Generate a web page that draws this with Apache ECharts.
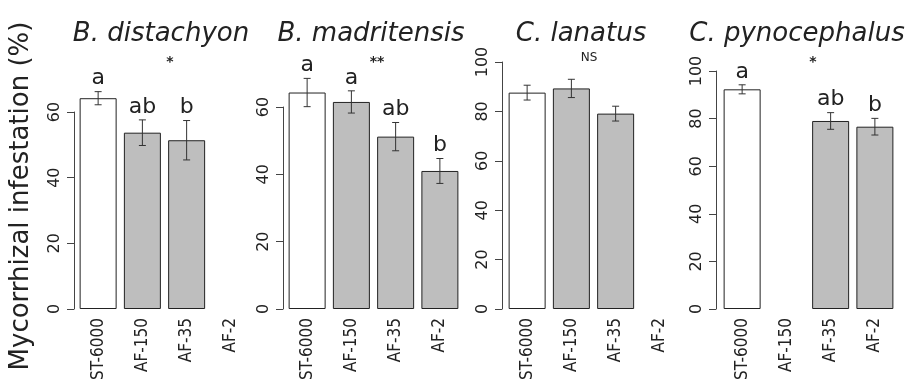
<!DOCTYPE html>
<html>
<head>
<meta charset="utf-8">
<script src="https://cdn.jsdelivr.net/npm/echarts@6/dist/echarts.min.js"></script>
<style>
  html, body { margin: 0; padding: 0; background: #fff; }
  #chart { width: 916px; height: 385px; }
</style>
</head>
<body>
<div id="chart"></div>
<script>
// treatments on the x axis
const categories = ['ST-6000', 'AF-150', 'AF-35', 'AF-2'];
const species = ['B. distachyon', 'B. madritensis', 'C. lanatus', 'C. pynocephalus'];

// mean infestation (%) per treatment, null = not measured
const distachyon   = [64.2, 53.7, 51.4, null];
const madritensis  = [64.3, 61.5, 51.2, 41.0];
const lanatus      = [87.6, 89.3, 79.1, null];
const pynocephalus = [92.3, null, 79.0, 76.6];

// standard errors
const distachyonSe   = [2.0, 3.9, 6.0, null];
const madritensisSe  = [4.2, 3.3, 4.2, 3.7];
const lanatusSe      = [3.0, 3.7, 3.0, null];
const pynocephalusSe = [1.9, null, 3.5, 3.5];

// post-hoc letters
const distachyonLet   = ['a', 'ab', 'b', ''];
const madritensisLet  = ['a', 'a', 'ab', 'b'];
const lanatusLet      = ['', '', '', ''];
const pynocephalusLet = ['a', '', 'ab', 'b'];

const signif = ['*', '**', 'NS', '*'];
const yMax = [60, 60, 100, 100];

const means = [distachyon, madritensis, lanatus, pynocephalus];
const ses = [distachyonSe, madritensisSe, lanatusSe, pynocephalusSe];
const letters = [distachyonLet, madritensisLet, lanatusLet, pynocephalusLet];

const FONT = 'DejaVu Sans';
const NARROW = '"Liberation Sans Narrow", "DejaVu Sans Condensed", "DejaVu Sans"';
const grids = [
    {left: 76, top: 112, width: 177, bottom: 76, offset: 2, title: 156, sigX: 170, sigY: 62},
    {left: 285, top: 107, width: 177, bottom: 76, offset: 2, title: 366, sigX: 377, sigY: 62},
    {left: 505, top: 62, width: 177, bottom: 76, offset: 3, title: 576, sigX: 589, sigY: 58},
    {left: 720, top: 71, width: 177, bottom: 76, offset: 4, title: 792, sigX: 813, sigY: 62}
];

const option = {
    backgroundColor: '#fff',
    animation: false,
    title: [],
    grid: [],
    xAxis: [],
    yAxis: [],
    series: [],
    graphic: [{
        type: 'text',
        x: 21, y: 196,
        rotation: Math.PI / 2,
        style: {
            text: 'Mycorrhizal infestation (%)',
            font: '26px "' + FONT + '"',
            fill: '#222',
            align: 'center',
            verticalAlign: 'middle'
        }
    }]
};

grids.forEach(function (g, i) {
    option.grid.push({left: g.left, top: g.top, width: g.width, bottom: g.bottom});
    option.title.push({
        text: species[i],
        left: g.title,
        top: 16,
        textAlign: 'center',
        textStyle: {fontFamily: FONT, fontStyle: 'italic', fontWeight: 'normal', fontSize: 26, color: '#222'}
    });
    option.graphic.push({
        type: 'text',
        x: g.sigX, y: g.sigY,
        style: {
            text: signif[i],
            font: (signif[i] === 'NS' ? 'normal 12px "' : 'bold 14px "') + FONT + '"',
            fill: '#222',
            align: 'center',
            verticalAlign: 'middle'
        }
    });
    option.xAxis.push({
        type: 'category',
        gridIndex: i,
        data: categories,
        axisLine: {show: false},
        axisTick: {show: false},
        axisLabel: {interval: 0, rotate: 90, margin: 9, fontSize: 17, fontFamily: NARROW, color: '#222'}
    });
    option.yAxis.push({
        type: 'value',
        gridIndex: i,
        min: 0, max: yMax[i], interval: 20,
        offset: g.offset,
        splitLine: {show: false},
        axisLine: {show: true, lineStyle: {color: '#444', width: 1}},
        axisTick: {show: true, length: 7, lineStyle: {color: '#444'}},
        axisLabel: {rotate: 90, margin: 11, fontSize: 16, fontFamily: FONT, color: '#222'}
    });
    option.series.push({
        type: 'bar',
        xAxisIndex: i, yAxisIndex: i,
        barWidth: 37,
        clip: false,
        z: 2,
        data: means[i].map(function (v, k) {
            return {
                value: v,
                itemStyle: {color: k === 0 ? '#ffffff' : '#bebebe', borderColor: '#222', borderWidth: 1}
            };
        })
    });
    const errData = [];
    means[i].forEach(function (v, k) {
        if (v !== null) errData.push([k, v - ses[i][k], v + ses[i][k], letters[i][k]]);
    });
    option.series.push({
        type: 'custom',
        xAxisIndex: i, yAxisIndex: i,
        clip: false,
        z: 5,
        data: errData,
        renderItem: function (params, api) {
            const k = api.value(0);
            const lo = api.coord([k, api.value(1)]);
            const hi = api.coord([k, api.value(2)]);
            const lab = errData[params.dataIndex][3];
            const cap = 3.5;
            const st = {stroke: '#333', lineWidth: 1};
            return {
                type: 'group',
                children: [
                    {type: 'line', shape: {x1: lo[0], y1: lo[1], x2: hi[0], y2: hi[1]}, style: st},
                    {type: 'line', shape: {x1: lo[0] - cap, y1: lo[1], x2: lo[0] + cap, y2: lo[1]}, style: st},
                    {type: 'line', shape: {x1: hi[0] - cap, y1: hi[1], x2: hi[0] + cap, y2: hi[1]}, style: st},
                    {type: 'text', x: hi[0], y: hi[1] - 13,
                     style: {text: lab, font: '22px "' + FONT + '"', fill: '#222', align: 'center', verticalAlign: 'middle'}}
                ]
            };
        }
    });
});

const chart = echarts.init(document.getElementById('chart'));
chart.setOption(option);
window.addEventListener('resize', function () { chart.resize(); });
</script>
</body>
</html>
